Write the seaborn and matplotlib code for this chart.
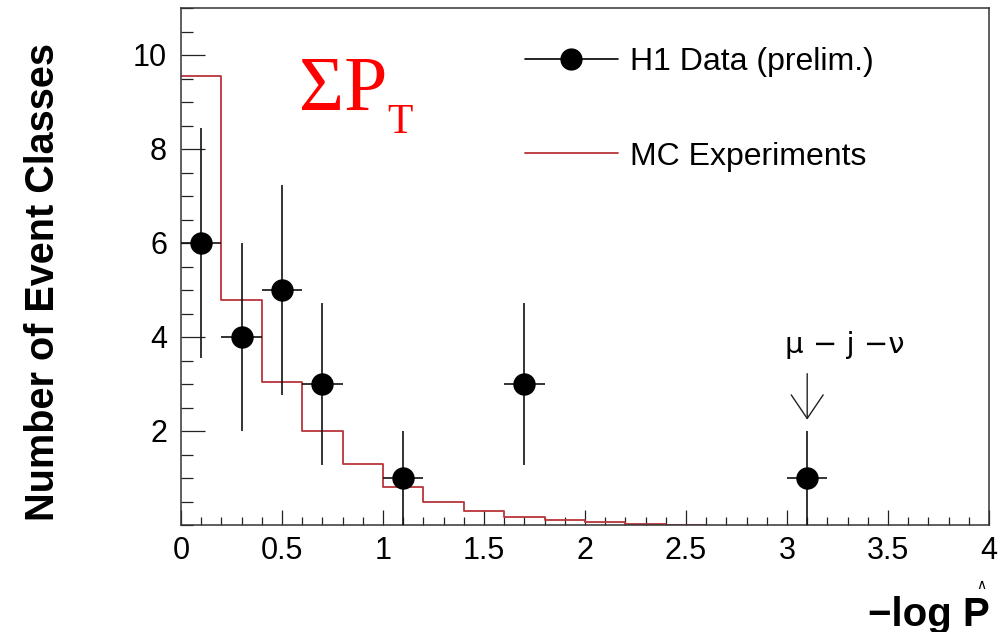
import numpy as np
import matplotlib
matplotlib.use("Agg")
import matplotlib.pyplot as plt
from matplotlib.lines import Line2D
from matplotlib.ticker import MultipleLocator, FixedLocator, FixedFormatter
import seaborn as sns

# ---- data ----
mc_bin_edges = [0.0, 0.2, 0.4, 0.6, 0.8, 1.0, 1.2, 1.4, 1.6, 1.8, 2.0, 2.2, 2.4, 2.6]
mc_counts = [9.55, 4.78, 3.05, 2.0, 1.3, 0.8, 0.5, 0.3, 0.17, 0.1, 0.07, 0.03, 0.01]

data_x = [0.1, 0.3, 0.5, 0.7, 1.1, 1.7, 3.1]
data_y = [6, 4, 5, 3, 1, 3, 1]
data_yerr = [2.45, 2.0, 2.24, 1.73, 1.0, 1.73, 1.0]
data_xerr = [0.1, 0.1, 0.1, 0.1, 0.1, 0.1, 0.1]

x_ticks = [0, 0.5, 1, 1.5, 2, 2.5, 3, 3.5, 4]
x_tick_labels = ["0", "0.5", "1", "1.5", "2", "2.5", "3", "3.5", "4"]
y_ticks = [2, 4, 6, 8, 10]
y_tick_labels = ["2", "4", "6", "8", "10"]

legend_labels = ["H1 Data (prelim.)", "MC Experiments"]
ylabel = "Number of Event Classes"
xlabel = "\u2212log P"
annot_text = "\u03bc \u2212 j \u2212\u03bd"
annot_x = 3.1
annot_tip_y = 2.24
annot_tail_y = 3.22

sns.set_theme(style="white")
plt.rcParams["font.family"] = ["Liberation Sans", "DejaVu Sans"]
plt.rcParams["text.color"] = "black"
plt.rcParams["axes.labelcolor"] = "black"
plt.rcParams["xtick.color"] = "black"
plt.rcParams["ytick.color"] = "black"

fig = plt.figure(figsize=(10.04, 6.32), dpi=100)
ax = fig.add_axes([181 / 1004, 1 - 525 / 632, (989 - 181) / 1004, (525 - 8) / 632])

mc_color = "#b8353a"
centers = [(a + b) / 2 for a, b in zip(mc_bin_edges[:-1], mc_bin_edges[1:])]
sns.histplot(x=centers, weights=mc_counts, bins=mc_bin_edges, element="step",
             fill=False, color=mc_color, linewidth=1.3, ax=ax, zorder=2)

ax.errorbar(data_x, data_y, xerr=data_xerr, yerr=data_yerr, fmt="none",
            ecolor="#111111", elinewidth=1.2, capsize=0, zorder=3)
sns.scatterplot(x=data_x, y=data_y, s=260, color="black", edgecolor="black",
                linewidth=0, ax=ax, zorder=4, legend=False)

ax.set_xlim(0, 4)
ax.set_ylim(0, 11)
ax.set_xlabel("")
ax.set_ylabel("")

ax.xaxis.set_major_locator(FixedLocator(x_ticks))
ax.xaxis.set_major_formatter(FixedFormatter(x_tick_labels))
ax.xaxis.set_minor_locator(MultipleLocator(0.1))
ax.yaxis.set_major_locator(FixedLocator(y_ticks))
ax.yaxis.set_major_formatter(FixedFormatter(y_tick_labels))
ax.yaxis.set_minor_locator(MultipleLocator(0.5))

ax.tick_params(axis="x", which="major", direction="in", length=10.8, width=0.9,
               color="#222222", labelcolor="black", labelsize=22, pad=8, bottom=True)
ax.tick_params(axis="x", which="minor", direction="in", length=5.8, width=0.9,
               color="#222222", bottom=True)
ax.tick_params(axis="y", which="major", direction="in", length=17, width=0.9,
               color="#222222", labelcolor="black", labelsize=22, pad=10, left=True)
ax.tick_params(axis="y", which="minor", direction="in", length=8.6, width=0.9,
               color="#222222", left=True)
for s in ax.spines.values():
    s.set_visible(True)
    s.set_color("#333333")
    s.set_linewidth(1.1)
ax.grid(False)
ax.set_facecolor("white")

# axis titles
fig.text(43 / 1004, 1 - 282 / 632, ylabel, rotation=90, ha="center", va="center",
         fontsize=28.5, fontweight="bold", color="black")
fig.text(990 / 1004, 1 - 626 / 632, xlabel, ha="right", va="baseline",
         fontsize=29, fontweight="bold", color="black")
fig.text(981 / 1004, 1 - 592 / 632, "\u2227", ha="center", va="bottom", fontsize=10,
         family="DejaVu Sans", color="black")

# Sigma P_T
ax.text(0.585, 8.83, "\u03a3P", color="#ff0000", fontsize=56,
        family="Liberation Serif", ha="left", va="baseline")
ax.text(1.02, 8.34, "T", color="#ff0000", fontsize=30,
        family="Liberation Serif", ha="left", va="baseline")

# annotation
ax.annotate("", xy=(annot_x, annot_tip_y), xytext=(annot_x, annot_tail_y),
            arrowprops=dict(arrowstyle="->,head_length=1.7,head_width=1.15",
                            mutation_scale=10, color="#222222", lw=1.0,
                            shrinkA=0, shrinkB=0))
ax.text(2.99, 3.65, annot_text, fontsize=21, ha="left", va="baseline",
        family=["DejaVu Sans"], color="black")

# legend
handles = [Line2D([], [], color="black", marker="o", markersize=15, lw=1.2),
           Line2D([], [], color=mc_color, lw=1.3)]
leg = ax.legend(handles, legend_labels, loc="upper left", bbox_to_anchor=(0.4257, 0.925),
                frameon=False, fontsize=23, handlelength=2.9, handletextpad=0.4,
                labelspacing=2.03, borderpad=0, borderaxespad=0)
for t in leg.get_texts():
    t.set_color("black")

fig.savefig("out.png", dpi=100, facecolor="white")
